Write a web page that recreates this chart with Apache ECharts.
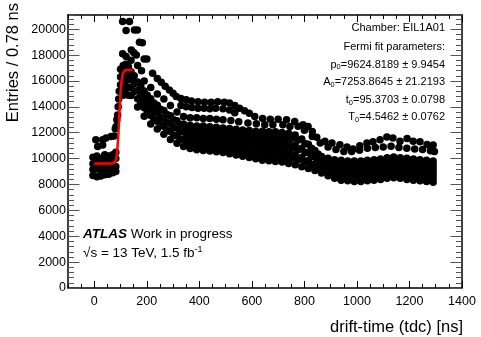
<!DOCTYPE html>
<html>
<head>
<meta charset="utf-8">
<script src="https://cdn.jsdelivr.net/npm/echarts@6/dist/echarts.min.js"></script>
<style>
html,body{margin:0;padding:0;background:#fff;}
#chart{width:481px;height:337px;}
</style>
</head>
<body>
<div id="chart"></div>
<script>
// 漂移时间分布 (drift-time spectrum)

// dense band: x positions (two staggered sets) and seven rows of entries
var bandX = [140,165,190,215,240,265,290,315,340,365,390,415,440,465,490,515,540,565,590,615,640,665,690,715,740,765,790,815,840,865,890,915,940,965,990,1015,1040,1065,1090,1115,1140,1165,1190,1215,1240,1265,1290];
var bandXOff = [152,177,202,227,252,277,302,327,352,377,402,427,452,477,502,527,552,577,602,627,652,677,702,727,752,777,802,827,852,877,902,927,952,977,1002,1027,1052,1077,1102,1127,1152,1177,1202,1227,1252,1277,1290];
var band0 = [16720,15920,15220,14620,14120,13720,13320,12920,12670,12570,12520,12520,12470,12420,12370,12320,12270,12220,12170,12120,12120,12070,12070,12020,11970,11820,11520,11120,10620,10170,10020,9920,9870,9820,9820,9820,9870,9920,9970,10070,10120,10070,10020,9970,9920,9870,9820];
var band1 = [16410,15600,14900,14300,13810,13410,13010,12630,12380,12270,12210,12210,12160,12110,12060,12000,11940,11880,11820,11760,11750,11700,11690,11640,11580,11440,11160,10810,10360,9960,9800,9680,9610,9560,9560,9560,9610,9660,9710,9810,9860,9810,9750,9700,9650,9600,9550];
var band2 = [16110,15270,14570,13970,13510,13110,12710,12340,12090,11970,11910,11890,11840,11790,11740,11670,11610,11540,11470,11410,11370,11320,11310,11260,11190,11060,10810,10490,10110,9740,9570,9440,9360,9310,9290,9290,9340,9390,9440,9540,9590,9540,9470,9420,9370,9320,9270];
var band3 = [15800,14950,14250,13650,13200,12800,12400,12050,11800,11680,11600,11580,11530,11480,11430,11350,11280,11200,11130,11050,11000,10950,10930,10880,10800,10680,10450,10180,9850,9530,9350,9200,9100,9050,9030,9030,9080,9130,9180,9280,9330,9280,9200,9150,9100,9050,9000];
var band4 = [15490,14630,13930,13330,12890,12490,12090,11760,11510,11380,11290,11260,11210,11160,11110,11030,10940,10860,10780,10690,10630,10580,10540,10490,10410,10290,10090,9860,9590,9310,9130,8960,8840,8790,8760,8760,8810,8860,8910,9010,9060,9010,8930,8880,8830,8780,8730];
var band5 = [15190,14300,13600,13000,12590,12190,11790,11470,11220,11080,10990,10950,10900,10850,10800,10700,10610,10520,10430,10340,10250,10200,10160,10110,10020,9910,9740,9550,9340,9100,8900,8720,8590,8540,8500,8500,8550,8600,8650,8750,8800,8750,8650,8600,8550,8500,8450];
var band6 = [14880,13980,13280,12680,12280,11880,11480,11180,10930,10780,10680,10630,10580,10530,10480,10380,10280,10180,10080,9980,9880,9830,9780,9730,9630,9530,9380,9230,9080,8880,8680,8480,8330,8280,8230,8230,8280,8330,8380,8480,8530,8480,8380,8330,8280,8230,8180];

// before the rising edge
var preX = [-5,10,25,40,55,70,82];
var preRow1 = [10100,10200,10000,10300,10200,10300,10500];
var preRow2 = [9600,9700,9600,9800,9700,9800,10000];
var preRow3 = [9150,9200,9100,9300,9200,9300,9400];
var preRow4 = [8700,8600,8650,8750,8800,8900,9000];

// sparse rows above the band
var topTrack = [[200,17700],[222,16600],[240,16200],[255,15900],[270,15600],[286,15300],[300,15050],[312,14800],[330,14650],[350,14550],[370,14450],[395,14400],[420,14350],[445,14350],[470,14400],[495,14350],[515,14300],[535,14100],[553,13900],[572,13700],[590,13500],[611,13250],[641,13100],[670,13050],[700,13050],[732,13000],[763,12870],[795,12610],[814,12480],[830,12100],[847,11650],[878,11350],[905,11200],[935,11070],[962,10900],[985,10750],[1011,11000],[1038,11200],[1061,11300],[1088,11450],[1114,11680],[1137,11600],[1164,11350],[1191,11550],[1214,11350],[1240,11300],[1267,11100],[1290,11050]];
var middleTrack = [[330,14100],[350,14000],[372,13950],[395,13900],[418,13900],[440,13850],[462,13900],[490,13850],[515,13750],[535,13550]];
var secondTrack = [[190,16000],[215,15500],[240,15000],[265,14600],[290,14100],[315,13600],[340,13250],[365,13150],[390,13150],[415,13100],[440,13100],[465,13050],[490,13000],[520,12950],[550,12850],[585,12750],[617,12700],[649,12610],[680,12610],[718,12610],[745,12480],[776,12500],[800,12200],[830,11700],[860,11200],[890,10900],[920,10700],[950,10550],[980,10550],[1010,10650],[1040,10800],[1070,10850],[1100,10900],[1130,10950],[1160,10850],[1190,10800],[1220,10750],[1250,10700],[1280,10600],[1295,10550]];

// peak and rising edge
var peakPoints = [[108,20600],[134,20600],[121,19900],[153,19950],[164,19950],[172,19000],[183,18950],[108,18100],[121,17900],[141,18400],[150,18200],[160,18000],[190,17700],[140,17600],[165,17200],[180,16800],[100,16900],[100,16300],[100,15700],[110,17200],[110,16600],[110,16000],[110,15400],[110,14900],[120,17300],[120,16800],[120,16200],[120,15600],[120,15000],[130,17100],[130,16600],[130,16100],[130,15500],[130,14900]];
var risePoints = [[6,11450],[32,11450],[45,11600],[64,11700],[76,11750],[13,10930],[32,11060],[80,12300],[83,12480],[86,13000],[89,13380],[91,14000],[93,14600],[95,15200]];

// Fermi fit curve
var fitCurve = [[0,9625],[40,9625],[70,9650],[78,9750],[82,9950],[85,10250],[88,10800],[90,11350],[92,12000],[94,12800],[96,13600],[98,14400],[100,15100],[102,15650],[105,16150],[108,16500],[112,16720],[118,16830],[126,16870],[146,16878]];

// axes
var xMajorTicks = [0,200,400,600,800,1000,1200,1400];
var fitText = ['Chamber: EIL1A01', 'Fermi fit parameters:', 'p{s|0}=9624.8189 ± 9.9454', 'A{s|0}=7253.8645 ± 21.2193', 't{s|0}=95.3703 ± 0.0798', 'T{s|0}=4.5462 ± 0.0762'];

var font = 'Liberation Sans, Arial, Helvetica, sans-serif';

var points = [];
var bandRows = [band0, band1, band2, band3, band4, band5, band6];
for (var r = 0; r < bandRows.length; r++) {
    var xs = (r % 2 === 1) ? bandXOff : bandX; // 交错排列
    for (var i = 0; i < xs.length; i++) {
        points.push([xs[i], bandRows[r][i]]);
    }
}
var preRows = [preRow1, preRow2, preRow3, preRow4];
for (var r = 0; r < preRows.length; r++) {
    for (var i = 0; i < preX.length; i++) {
        points.push([preX[i], preRows[r][i]]);
    }
}
points = points.concat(topTrack, middleTrack, secondTrack, peakPoints, risePoints);

var chart = echarts.init(document.getElementById('chart'));

function plain(v) { return String(v); }

function xAx(pos, major, labels) {
    return {
        type: 'value', position: pos, min: -100, max: 1400,
        interval: major ? undefined : 50,
        axisLine: {show: !major, onZero: false, lineStyle: {color: '#000', width: 1.5}},
        axisTick: major ? {inside: true, length: 7, customValues: xMajorTicks, lineStyle: {color: '#000'}}
                        : {inside: true, length: 4, lineStyle: {color: '#000'}},
        axisLabel: labels ? {show: true, customValues: xMajorTicks, margin: 7, color: '#000', fontSize: 12.5, fontFamily: font, formatter: plain}
                          : {show: false},
        splitLine: {show: false}
    };
}
function yAx(pos, major, labels) {
    return {
        type: 'value', position: pos, min: 0, max: 21100,
        interval: major ? 2000 : 400,
        axisLine: {show: major, onZero: false, lineStyle: {color: '#000', width: 1.5}},
        axisTick: {inside: true, length: major ? 11.5 : 6, lineStyle: {color: '#555'}},
        axisLabel: labels ? {show: true, margin: 2, color: '#000', fontSize: 12.5, fontFamily: font, showMaxLabel: false, formatter: plain}
                          : {show: false},
        splitLine: {show: false}
    };
}

var graphics = [];
var fitY = [28, 47, 64.5, 82, 100, 117];
for (var k = 0; k < fitText.length; k++) {
    graphics.push({
        type: 'text', x: 445, y: fitY[k], z: 100,
        style: {
            text: fitText[k], fill: '#000', fontSize: 11, fontFamily: font,
            align: 'right', verticalAlign: 'middle', lineHeight: 13,
            rich: {s: {fontSize: 7.5, fontFamily: font, lineHeight: 6, verticalAlign: 'bottom', fill: '#000'}}
        }
    });
}
graphics.push({
    type: 'text', x: 83, y: 234, z: 100,
    style: {
        text: '{b|ATLAS} Work in progress', fill: '#000', fontSize: 13.5, fontFamily: font,
        align: 'left', verticalAlign: 'middle', lineHeight: 16,
        rich: {b: {fontSize: 13.5, fontFamily: font, fontWeight: 'bold', fontStyle: 'italic', fill: '#000', lineHeight: 16}}
    }
});
graphics.push({
    type: 'text', x: 83, y: 253, z: 100,
    style: {
        text: '√s = 13 TeV, 1.5 fb{p|-1}', fill: '#000', fontSize: 13.5, fontFamily: font,
        align: 'left', verticalAlign: 'middle', lineHeight: 16,
        rich: {p: {fontSize: 9, fontFamily: font, lineHeight: 6, verticalAlign: 'top', fill: '#000'}}
    }
});
graphics.push({
    type: 'text', x: 13, y: 3, rotation: Math.PI / 2,
    style: {text: 'Entries / 0.78 ns', fill: '#000', fontSize: 16.5, fontFamily: font, align: 'right', verticalAlign: 'middle'}
});
graphics.push({
    type: 'text', x: 463, y: 327,
    style: {text: 'drift-time (tdc) [ns]', fill: '#000', fontSize: 16.5, fontFamily: font, align: 'right', verticalAlign: 'middle'}
});

var option = {
    backgroundColor: '#fff',
    animation: false,
    grid: {left: 68, right: 19, top: 15, bottom: 49, containLabel: false},
    xAxis: [xAx('bottom', false, false), xAx('bottom', true, true), xAx('top', false, false), xAx('top', true, false)],
    yAxis: [yAx('left', true, true), yAx('left', false, false), yAx('right', true, false), yAx('right', false, false)],
    series: [{
        type: 'scatter',
        xAxisIndex: 0, yAxisIndex: 0,
        data: points,
        symbol: 'circle',
        symbolSize: 7.5,
        itemStyle: {color: '#000', opacity: 1},
        silent: true
    }, {
        type: 'line',
        xAxisIndex: 0, yAxisIndex: 0,
        data: fitCurve,
        showSymbol: false,
        smooth: 0.3,
        z: 5,
        lineStyle: {color: '#ff0000', width: 2.5},
        silent: true
    }],
    graphic: graphics
};
chart.setOption(option);
</script>
</body>
</html>
